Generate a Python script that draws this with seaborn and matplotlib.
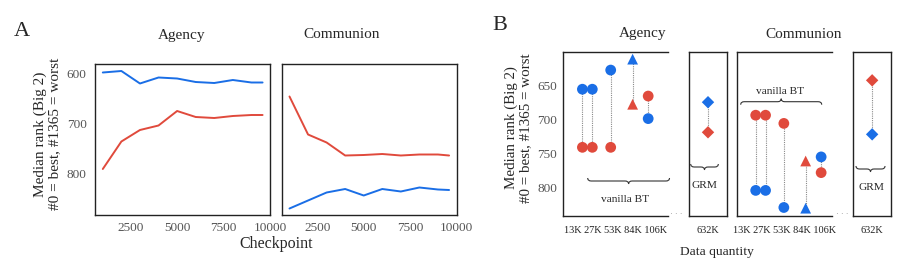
import numpy as np
import pandas as pd
import matplotlib
matplotlib.use("Agg")
import matplotlib.pyplot as plt
from matplotlib.path import Path
from matplotlib.patches import PathPatch
import seaborn as sns

# ---------------- data ----------------
checkpoints = [1000, 2000, 3000, 4000, 5000, 6000, 7000, 8000, 9000, 9600]
agency_blue = [597, 594, 619, 607, 609, 616, 618, 612, 617, 617]
agency_red = [790, 735, 712, 703, 674, 686, 688, 684, 682, 682]
communion_blue = [869, 853, 837, 830, 843, 830, 835, 827, 831, 832]
communion_red = [645, 721, 737, 763, 762, 760, 763, 761, 761, 763]

quantities = [13, 27, 53, 84, 106]
quantity_labels = ["13K", "27K", "53K", "84K", "106K"]
quantity_markers = ["o", "o", "o", "^", "o"]
b_agency_blue = [656, 656, 628, 612, 699]
b_agency_red = [741, 741, 741, 678, 666]
b_communion_blue = [804, 804, 829, 830, 755]
b_communion_red = [694, 694, 706, 761, 778]

grm_quantity = 632
grm_label = "632K"
grm_agency_blue = 675
grm_agency_red = 719
grm_communion_blue = 722
grm_communion_red = 643

BLUE = "#1a6ee6"
RED = "#e04a3c"
palette = {"blue": BLUE, "red": RED}

# ---------------- style ----------------
sns.set_style("white")
plt.rcParams["font.family"] = ["Liberation Serif", "DejaVu Serif"]
plt.rcParams["axes.edgecolor"] = "#222222"
plt.rcParams["axes.linewidth"] = 1.0

W, H = 914, 268
fig = plt.figure(figsize=(W / 100, H / 100), dpi=100)


def rect(x0, x1, ytop, ybot):
    return [x0 / W, 1 - ybot / H, (x1 - x0) / W, (ybot - ytop) / H]


def ftext(x, y, s, **kw):
    fig.text(x / W, 1 - y / H, s, ha=kw.pop("ha", "center"), va=kw.pop("va", "center"), **kw)


TICKC = "#555555"

# ---------------- Panel A ----------------
axA1 = fig.add_axes(rect(95, 270, 64, 215))
axA2 = fig.add_axes(rect(281.7, 456.5, 64, 215), sharey=axA1)

for ax, blue, red in [(axA1, agency_blue, agency_red), (axA2, communion_blue, communion_red)]:
    df = pd.DataFrame({
        "checkpoint": checkpoints * 2,
        "rank": blue + red,
        "series": ["blue"] * len(checkpoints) + ["red"] * len(checkpoints),
    })
    sns.lineplot(data=df, x="checkpoint", y="rank", hue="series", palette=palette,
                 linewidth=1.4, legend=False, ax=ax)
    ax.set_xlim(580, 10000)
    ax.set_xticks([2500, 5000, 7500, 10000])
    ax.set_xlabel("")
    ax.set_ylabel("")
    ax.tick_params(length=0, pad=5, labelsize=9.5, labelcolor=TICKC)
    for sp in ax.spines.values():
        sp.set_visible(True)
        sp.set_color("#222222")

axA1.set_ylim(882, 580)
axA1.set_yticks([600, 700, 800])
axA1.tick_params(axis="y", pad=6)
axA2.tick_params(axis="y", labelleft=False)

ftext(21.7, 31, "A", fontsize=16)
ftext(182, 35, "Agency", fontsize=11)
ftext(342, 35, "Communion", fontsize=11)
ftext(47.5, 134, "Median rank (Big 2)\n#0 = best, #1365 = worst", fontsize=11,
      rotation=90, linespacing=1.1, multialignment="center")
ftext(275.7, 244, "Checkpoint", fontsize=11.5)

# ---------------- Panel B ----------------
TOP, BOT = 52.3, 215.7
axB1 = fig.add_axes(rect(563.3, 668.0, TOP, BOT))
axB1g = fig.add_axes(rect(689.3, 726.7, TOP, BOT), sharey=axB1)
axB2 = fig.add_axes(rect(736.7, 831.7, TOP, BOT), sharey=axB1)
axB2g = fig.add_axes(rect(853.3, 891.0, TOP, BOT), sharey=axB1)

DOT = dict(color="#8a8a8a", linestyle=(0, (1, 1)), linewidth=0.8, zorder=1)


def draw_main(ax, blue, red):
    for q, b, r in zip(quantities, blue, red):
        ax.plot([q, q], [b, r], **DOT)
    df = pd.DataFrame({
        "quantity": quantities * 2,
        "rank": blue + red,
        "series": ["blue"] * len(quantities) + ["red"] * len(quantities),
        "marker": quantity_markers * 2,
    })
    sns.scatterplot(data=df, x="quantity", y="rank", hue="series", palette=palette,
                    style="marker", markers={"o": "o", "^": "^"}, s=60,
                    linewidth=0, legend=False, ax=ax, zorder=3)
    ax.set_xticks([])
    ax.set_xlabel("")
    ax.set_ylabel("")
    ax.spines["right"].set_visible(False)
    for k in ["left", "top", "bottom"]:
        ax.spines[k].set_visible(True)
        ax.spines[k].set_color("#222222")
    ax.text(0.5, -0.09, " ".join(quantity_labels), transform=ax.transAxes,
            ha="center", va="center", fontsize=7.4, color="#222222")


def draw_grm(ax, blue, red):
    ax.plot([grm_quantity, grm_quantity], [blue, red], **DOT)
    df = pd.DataFrame({"quantity": [grm_quantity] * 2, "rank": [blue, red],
                       "series": ["blue", "red"]})
    sns.scatterplot(data=df, x="quantity", y="rank", hue="series", palette=palette,
                    marker="D", s=40, linewidth=0, legend=False, ax=ax, zorder=3)
    ax.set_xlim(grm_quantity - 50, grm_quantity + 50)
    ax.set_xticks([])
    ax.set_xlabel("")
    ax.set_ylabel("")
    ax.tick_params(axis="y", left=False, labelleft=False)
    for sp in ax.spines.values():
        sp.set_visible(True)
        sp.set_color("#222222")
    ax.text(0.5, -0.09, grm_label, transform=ax.transAxes,
            ha="center", va="center", fontsize=7.4, color="#222222")


draw_main(axB1, b_agency_blue, b_agency_red)
draw_main(axB2, b_communion_blue, b_communion_red)
draw_grm(axB1g, grm_agency_blue, grm_agency_red)
draw_grm(axB2g, grm_communion_blue, grm_communion_red)

axB1.set_xlim(-14, 134)
axB2.set_xlim(-14, 121)
axB1.set_ylim(841, 602)
axB1.set_yticks([650, 700, 750, 800])
axB1.tick_params(axis="y", length=0, pad=4.5, labelsize=9.5, labelcolor=TICKC)
axB2.tick_params(axis="y", left=False, labelleft=False)


def brace(x0, x1, y, d, h=3.0, q=3.5):
    """curly brace in pixel coords (y down); d=+1 tip points down, -1 tip up"""
    xm = (x0 + x1) / 2
    pts = [(x0, y - d * h), (x0, y), (x0 + q, y), (xm - q, y), (xm, y), (xm, y + d * h),
           (xm, y), (xm + q, y), (x1 - q, y), (x1, y), (x1, y - d * h)]
    codes = [Path.MOVETO, Path.CURVE3, Path.CURVE3, Path.LINETO, Path.CURVE3, Path.CURVE3,
             Path.CURVE3, Path.CURVE3, Path.LINETO, Path.CURVE3, Path.CURVE3]
    verts = [(px / W, 1 - py / H) for px, py in pts]
    fig.add_artist(PathPatch(Path(verts, codes), transform=fig.transFigure, fill=False,
                             lw=0.8, edgecolor="#333333"))


brace(587.7, 669.5, 181.0, +1)
ftext(625, 200, "vanilla BT", fontsize=8.2)
brace(690.7, 718.3, 167.0, +1)
ftext(704.3, 185, "GRM", fontsize=8.2)
brace(740.7, 821.7, 101.7, -1)
ftext(780, 91, "vanilla BT", fontsize=8.2)
brace(856.0, 885.0, 169.0, +1)
ftext(871.7, 187, "GRM", fontsize=8.2)

ftext(676.5, 214.5, "· · ·", fontsize=6, color="#999999")
ftext(842.5, 214.5, "· · ·", fontsize=6, color="#999999")

ftext(500, 25, "B", fontsize=16)
ftext(643, 34, "Agency", fontsize=11)
ftext(804, 34, "Communion", fontsize=11)
ftext(518, 128, "Median rank (Big 2)\n#0 = best, #1365 = worst", fontsize=10.8,
      rotation=90, linespacing=1.1, multialignment="center")
ftext(716.7, 251.7, "Data quantity", fontsize=9.7)

fig.savefig("out.png", dpi=100)
